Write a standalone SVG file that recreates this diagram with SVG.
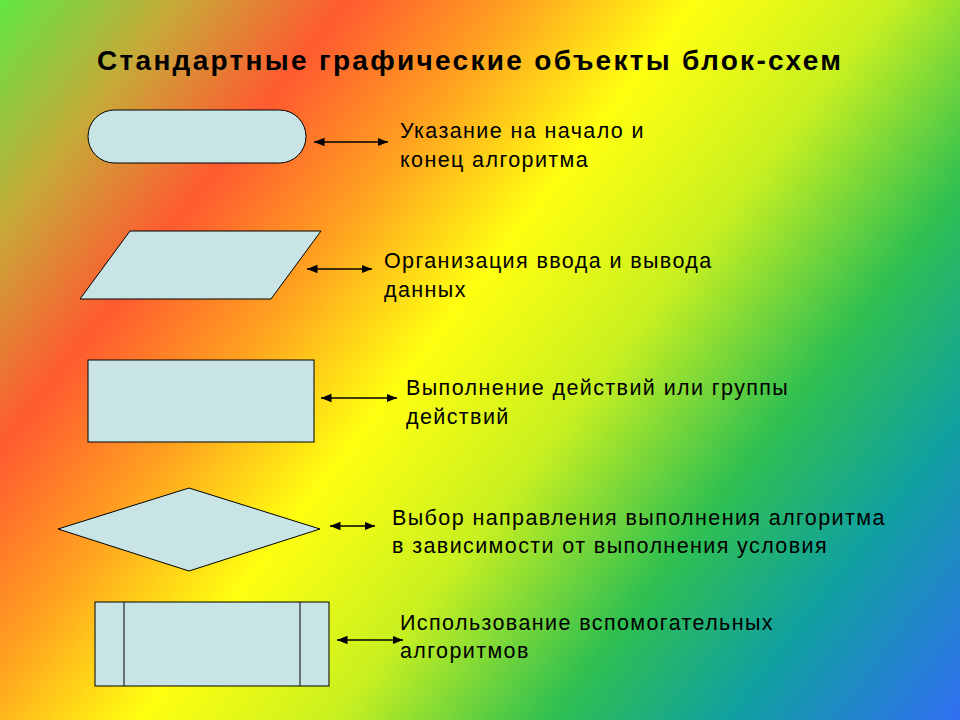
<svg xmlns="http://www.w3.org/2000/svg" width="960" height="720" viewBox="0 0 960 720">
<defs>
<linearGradient id="bg" gradientUnits="userSpaceOnUse" x1="0" y1="0" x2="946" y2="731">
<stop offset="0" stop-color="#60e840"/>
<stop offset="0.12" stop-color="#c8a838"/>
<stop offset="0.23" stop-color="#ff5a30"/>
<stop offset="0.34" stop-color="#ffa020"/>
<stop offset="0.46" stop-color="#ffff10"/>
<stop offset="0.59" stop-color="#c8f020"/>
<stop offset="0.73" stop-color="#30c050"/>
<stop offset="0.85" stop-color="#10a0a0"/>
<stop offset="1" stop-color="#3070f0"/>
</linearGradient>
<marker id="ah" viewBox="0 0 10 10" refX="10" refY="5" markerWidth="7" markerHeight="7" orient="auto-start-reverse"><path d="M0,1 L10,5 L0,9 z" fill="#000"/></marker>
<style>
.s{fill:#c8e4e4;stroke:#000;stroke-width:1}
.t{font-family:"Liberation Sans",Arial,sans-serif;font-size:21.5px;letter-spacing:1.4px;fill:#000}
.c{stroke:#000;stroke-width:1.5;marker-start:url(#ah);marker-end:url(#ah)}
</style>
</defs>
<rect width="960" height="720" fill="url(#bg)"/>
<text x="97" y="70" style="font-family:'Liberation Sans',Arial,sans-serif;font-size:28px;letter-spacing:2.3px;font-weight:bold">Стандартные графические объекты блок-схем</text>
<g id="terminal"><rect class="s" x="88" y="110" width="218" height="53" rx="26.5"/></g>
<g id="io"><polygon class="s" points="130,231 321,231 271,299 80,299"/></g>
<g id="process"><rect class="s" x="88" y="360" width="226" height="82"/></g>
<g id="decision"><polygon class="s" points="189,488 320,529 189,571 58,529"/></g>
<g id="subroutine"><rect class="s" x="95" y="602" width="234" height="84"/><line x1="124" y1="602" x2="124" y2="686" stroke="#000"/><line x1="300" y1="602" x2="300" y2="686" stroke="#000"/></g>
<g id="connectors">
<line class="c" x1="314" y1="142" x2="388" y2="142"/>
<line class="c" x1="307" y1="269" x2="372" y2="269"/>
<line class="c" x1="321" y1="398" x2="397" y2="398"/>
<line class="c" x1="330" y1="526" x2="375" y2="526"/>
<line class="c" x1="337" y1="640" x2="403" y2="640"/>
</g>
<g id="labels">
<text class="t" x="400" y="138">Указание на начало и</text>
<text class="t" x="400" y="167">конец алгоритма</text>
<text class="t" x="384" y="268">Организация ввода и вывода</text>
<text class="t" x="384" y="297">данных</text>
<text class="t" x="406" y="395">Выполнение действий или группы</text>
<text class="t" x="406" y="424">действий</text>
<text class="t" x="392" y="525">Выбор направления выполнения алгоритма</text>
<text class="t" x="392" y="553">в зависимости от выполнения условия</text>
<text class="t" x="400" y="630">Использование вспомогательных</text>
<text class="t" x="400" y="658">алгоритмов</text>
</g>
</svg>
